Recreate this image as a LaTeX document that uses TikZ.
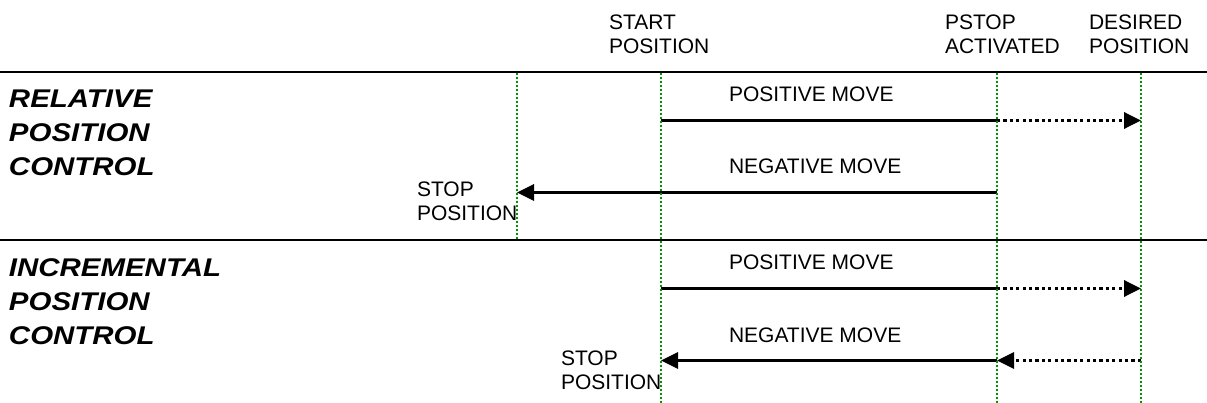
\documentclass[tikz,border=0pt]{standalone}
\usepackage{fontspec}
\setmainfont{Liberation Sans}
\usetikzlibrary{arrows.meta}
\begin{document}
\begin{tikzpicture}[x=1pt,y=-1pt,
  lbl/.style={font=\fontsize{21}{24}\selectfont, inner sep=0pt, outer sep=0pt, align=left, anchor=base west},
  ttl/.style={font=\bfseries\itshape\fontsize{25.6}{34}\selectfont, inner sep=0pt, outer sep=0pt, align=left, anchor=base west, xscale=1.15, transform shape},
  guide/.style={draw={rgb,255:red,0;green,150;blue,0}, line width=1.8pt, dash pattern=on 1.8pt off 2.2pt},
  rulerline/.style={line width=2pt},
  movesolid/.style={line width=3.4pt},
  movedot/.style={line width=3.4pt, dash pattern=on 3.2pt off 3.2pt},
  tipped/.style={-{Triangle[length=17pt,width=16pt]}}
]
\useasboundingbox (0,0) rectangle (1207,403);

% horizontal rules
\coordinate (r1l) at (0,72);   \coordinate (r1r) at (1207,72);
\coordinate (r2l) at (0,240);  \coordinate (r2r) at (1207,240);
\draw[rulerline] (r1l) -- (r1r);
\draw[rulerline] (r2l) -- (r2r);

% header labels (anchor = baseline of last line)
\node[lbl] (start) at (609,53.5) {START\\POSITION};
\node[lbl] (pstop) at (945,53.5) {PSTOP\\ACTIVATED};
\node[lbl] (desired) at (1089,53.5) {DESIRED\\POSITION};

% section titles
\node[ttl] (rel) at (9,176) {RELATIVE\\POSITION\\CONTROL};
\node[ttl] (inc) at (9,344) {INCREMENTAL\\POSITION\\CONTROL};

% move labels
\node[lbl] (pos1) at (729,102) {POSITIVE MOVE};
\node[lbl] (neg1) at (729,174) {NEGATIVE MOVE};
\node[lbl] (pos2) at (729,270) {POSITIVE MOVE};
\node[lbl] (neg2) at (729,342) {NEGATIVE MOVE};
\node[lbl] (stop1) at (417,221) {STOP\\POSITION};
\node[lbl] (stop2) at (561,389) {STOP\\POSITION};

% key points
\coordinate (a1s) at (661,120.5); \coordinate (a1p) at (997,120.5); \coordinate (a1d) at (1141,120.5);
\coordinate (b1p) at (997,192.5); \coordinate (b1e) at (517,192.5);
\coordinate (a2s) at (661,288.5); \coordinate (a2p) at (997,288.5); \coordinate (a2d) at (1141,288.5);
\coordinate (b2d) at (1141,360.5); \coordinate (b2p) at (997,360.5); \coordinate (b2s) at (661,360.5);

% moves
\draw[movesolid] (a1s) -- (a1p);
\draw[movedot,tipped] (a1p) -- (a1d);
\draw[movesolid,tipped] (b1p) -- (b1e);
\draw[movesolid] (a2s) -- (a2p);
\draw[movedot,tipped] (a2p) -- (a2d);
\draw[movedot,tipped] (b2d) -- (b2p);
\draw[movesolid,tipped] (b2p) -- (b2s);

% guides
\coordinate (g1t) at (517,73); \coordinate (g1b) at (517,240);
\coordinate (g2t) at (661,73); \coordinate (g2b) at (661,403);
\coordinate (g3t) at (997,73); \coordinate (g3b) at (997,403);
\coordinate (g4t) at (1141,73); \coordinate (g4b) at (1141,403);
\draw[guide] (g1t) -- (g1b);
\draw[guide] (g2t) -- (g2b);
\draw[guide] (g3t) -- (g3b);
\draw[guide] (g4t) -- (g4b);
\end{tikzpicture}
\end{document}
